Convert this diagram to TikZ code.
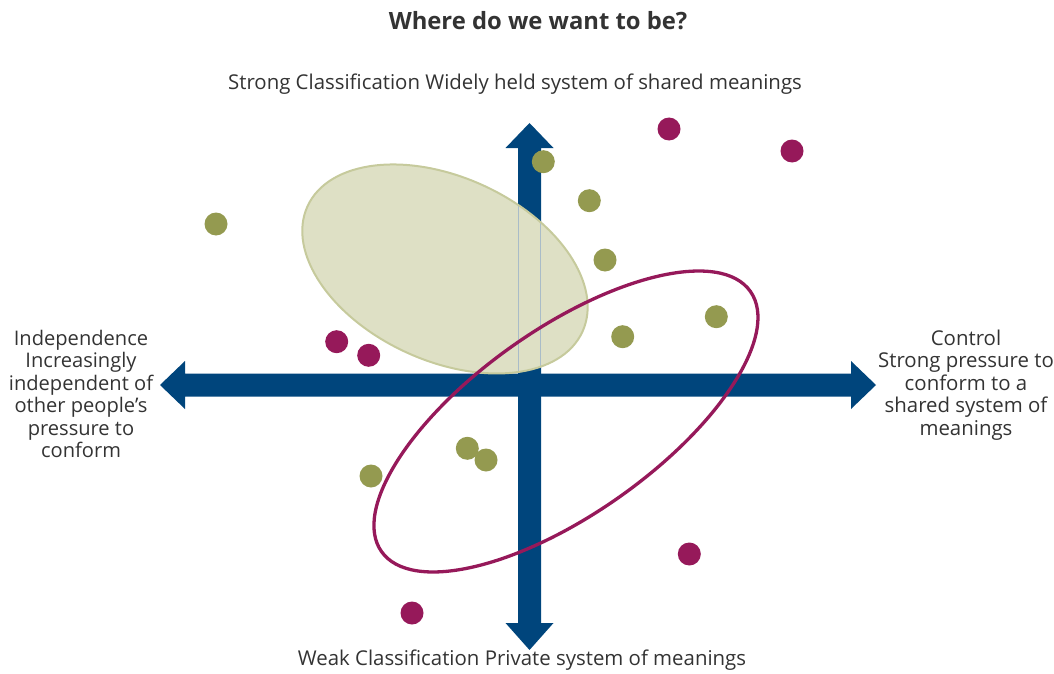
\documentclass[tikz,border=0pt]{standalone}
\usepackage{fontspec}
\setmainfont{Open Sans}
\definecolor{axisblue}{HTML}{00457C}
\definecolor{axisedge}{HTML}{A9BCC8}
\definecolor{dotgreen}{HTML}{949A50}
\definecolor{ellgreen}{HTML}{DEE0C5}
\definecolor{ellgreenedge}{HTML}{C6CA9C}
\definecolor{plum}{HTML}{96195A}
\definecolor{txt}{HTML}{333333}
\tikzset{
  gdot/.style={fill=dotgreen},
  pdot/.style={fill=plum},
  lbl/.style={text=txt,font=\fontsize{20.4}{22.5}\selectfont,align=center,inner sep=0pt},
  axisarrow/.style={fill=axisblue}
}
\begin{document}
\begin{tikzpicture}[x=1pt,y=-1pt]
\useasboundingbox (0,0) rectangle (1054,674);
% axes
\fill[axisarrow] (518,623) -- (505.5,623) -- (529.5,650) -- (553.5,623) -- (541,623)
  -- (541,148) -- (553.5,148) -- (529.5,123) -- (505.5,148) -- (518,148) -- cycle;
\fill[axisarrow] (185,373.5) -- (185,361) -- (160,385) -- (185,409) -- (185,396.5)
  -- (851,396.5) -- (851,409) -- (876,385) -- (851,361) -- (851,373.5) -- cycle;
% green ellipse
\coordinate (gc) at (445,269);
\fill[ellgreen,rotate around={-24.5:(gc)}] (gc) ellipse [x radius=151.1,y radius=91.9];
\begin{scope}
  \clip[rotate around={-24.5:(gc)}] (gc) ellipse [x radius=151.1,y radius=91.9];
  \draw[axisedge,line width=0.7pt] (518.3,100) -- (518.3,420);
  \draw[axisedge,line width=0.7pt] (540.7,100) -- (540.7,420);
\end{scope}
\draw[ellgreenedge,line width=2pt,rotate around={-24.5:(gc)}] (gc) ellipse [x radius=151.1,y radius=91.9];
% purple ellipse
\coordinate (pc) at (566,421.5);
\draw[plum,line width=3.3pt,rotate around={35.2:(pc)}] (pc) ellipse [x radius=225.7,y radius=92.5];
% dots
\foreach \x/\y in {216/224,543.3/161.7,589.3/200.7,605/260,622.7/336.7,716.3/316.7,467.3/448.3,486/460,371/476}
  \fill[gdot] (\x,\y) circle (11.5);
\foreach \x/\y in {669/129,792/151,336.7/341.7,368.7/355.3,689.3/554,412/613}
  \fill[pdot] (\x,\y) circle (11.5);
% texts
\node[text=txt,font=\fontsize{23.8}{27}\selectfont\bfseries,inner sep=0pt] (title) at (538,21) {Where do we want to be?};
\node[lbl] (top) at (515,84) {Strong Classification Widely held system of shared meanings};
\node[lbl] (bottom) at (522,660) {Weak Classification Private system of meanings};
\node[lbl,font=\fontsize{20.1}{22.4}\selectfont] (left) at (81,394) {Independence\\Increasingly\\independent of\\other people’s\\pressure to\\conform};
\node[lbl] (right) at (966,385) {Control\\Strong pressure to\\conform to a\\shared system of\\meanings};
\end{tikzpicture}
\end{document}
